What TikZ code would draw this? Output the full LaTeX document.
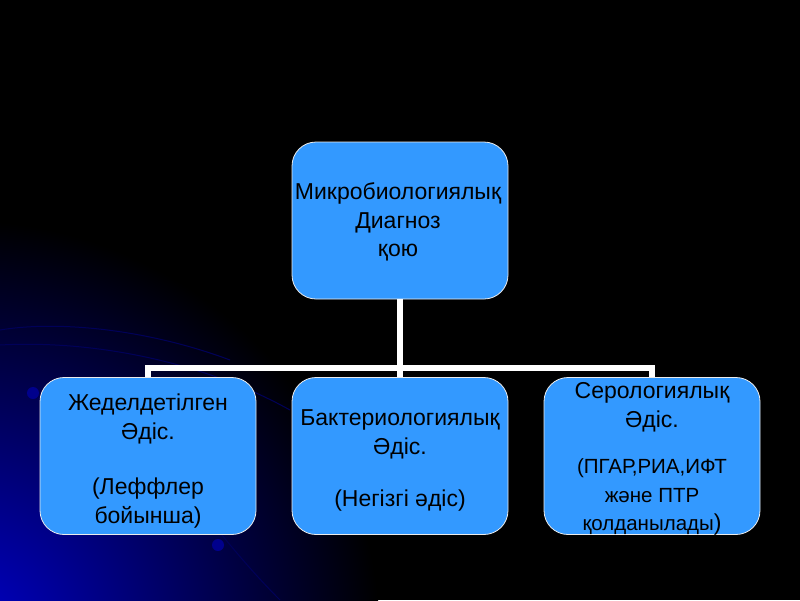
\documentclass[tikz,border=0pt]{standalone}
\usepackage{fontspec}
\setmainfont{Liberation Sans}
\begin{document}
\begin{tikzpicture}[x=1pt,y=-1pt,
  box/.style={draw=white!85!gray, line width=0.8pt, fill=boxblue, rounded corners=24pt,
    minimum width=216pt, minimum height=157pt, inner sep=0pt, align=center,
    text=black, font=\fontsize{23}{28.5}\selectfont},
  lbl/.style={text=black, align=center, inner sep=0pt, font=\fontsize{23}{28.5}\selectfont},
  conn/.style={draw=white, line width=6pt, line join=miter},
  arcs/.style={draw=blue!35!black, line width=1pt},
  dot/.style={fill=blue!55!black}]
\definecolor{boxblue}{RGB}{51,153,255}
\fill[black] (0,0) rectangle (800,600);
\useasboundingbox (0,0) rectangle (800,600);
\begin{scope}
\clip (0,0) rectangle (800,600);
\shade[inner color=blue!80!black, outer color=black] (-40,640) circle (420);
\draw[arcs] (0,345) .. controls (90,340) and (200,360) .. (290,410);
\draw[arcs] (0,330) .. controls (60,320) and (150,330) .. (230,360);
\draw[arcs] (170,470) .. controls (210,520) and (240,560) .. (280,600);
\fill[dot] (33,393) circle (6);
\fill[dot] (218,545) circle (6);
\end{scope}
\node[box] (top) at (400,220.5) {};
\node[lbl] (topt) at ([xshift=-2pt,yshift=-1.5pt]top.center) {Микробиологиялық\hspace{6pt}\\Диагноз\hspace{3pt}\\қою};
\node[box] (left) at (148,456) {};
\node[lbl] (leftt) at ([yshift=-5pt]left.center) {Жеделдетілген\\Әдіс.\\[27pt](Леффлер\\бойынша)};
\node[box] (mid) at (400,456) {};
\node[lbl] (midt) at ([yshift=-4.5pt]mid.center) {Бактериологиялық\\Әдіс.\\[24pt](Негізгі әдіс)};
\node[box] (right) at (652,456) {};
\node[lbl] (rightt) at ([yshift=-3pt]right.center) {Серологиялық\\Әдіс.\\[18pt]{\fontsize{20.5}{26}\selectfont (ПГАР,РИА,ИФТ}\\{\fontsize{20.5}{26}\selectfont және ПТР}\\{\fontsize{20.5}{26}\selectfont қолданылады})};
\coordinate (bus) at (400,368);
\draw[conn] (top.south) -- (bus);
\draw[conn] (left.north) |- (bus) -| (right.north);
\draw[conn] (bus) -- (mid.north);
\end{tikzpicture}
\end{document}
